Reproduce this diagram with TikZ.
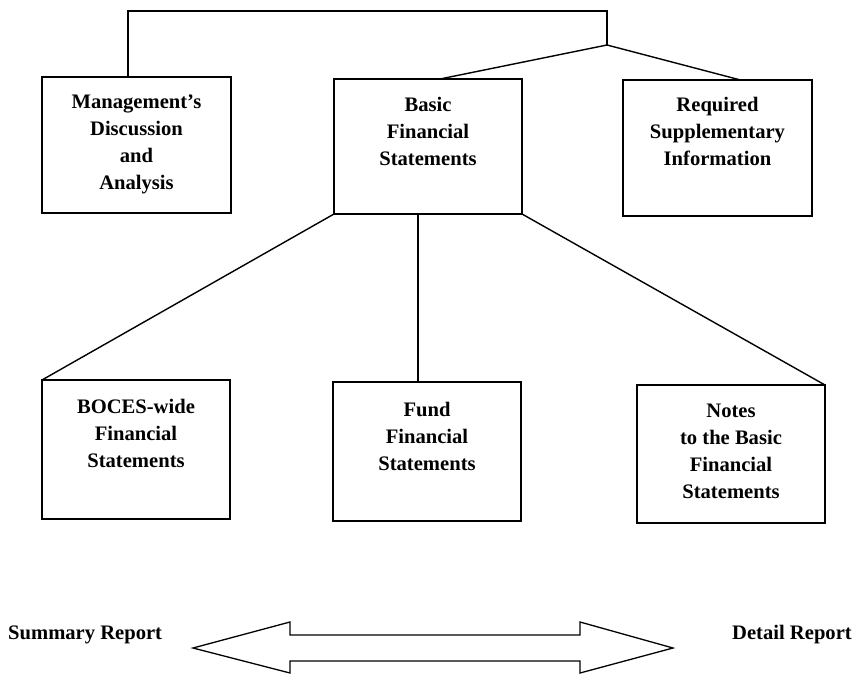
\documentclass[tikz,border=0pt]{standalone}
\usepackage{fontspec}
\setmainfont{Liberation Serif}
\begin{document}
\begin{tikzpicture}[x=1pt,y=-1pt,
  box/.style={draw, line width=1.6pt, inner sep=0pt, outer sep=0pt},
  txt/.style={anchor=north, inner sep=0pt, align=center, font=\fontsize{20.6}{27}\selectfont\bfseries},
  lbl/.style={anchor=base west, inner sep=0pt, font=\fontsize{20.6}{24}\selectfont\bfseries},
  conn/.style={line width=1.4pt}]
\useasboundingbox (0,0) rectangle (853,674);
% boxes
\node[box, minimum width=189pt, minimum height=136pt] (mda) at (136.5,145) {};
\node[box, minimum width=188pt, minimum height=135pt] (bfs) at (428,146.5) {};
\node[box, minimum width=189pt, minimum height=136pt] (rsi) at (717.5,148) {};
\node[box, minimum width=188pt, minimum height=139pt] (boces) at (136,449.5) {};
\node[box, minimum width=188pt, minimum height=139pt] (fund) at (427,451.5) {};
\node[box, minimum width=188pt, minimum height=138pt] (notes) at (731,454) {};
% texts
\node[txt] (mdat) at (136.5,95) {Management's\\Discussion\\and\\Analysis};
\node[txt] (bfst) at (428,97) {Basic\\Financial\\Statements};
\node[txt] (rsit) at (717.5,97) {Required\\Supplementary\\Information};
\node[txt] (bocest) at (136,399) {BOCES-wide\\Financial\\Statements};
\node[txt] (fundt) at (427,402) {Fund\\Financial\\Statements};
\node[txt] (notest) at (731,404) {Notes\\to the Basic\\Financial\\Statements};
% top connectors
\coordinate (tl) at (128,11);
\coordinate (tr) at (607,11);
\coordinate (j) at (607,45);
\draw[conn] (mda.north -| tl) -- (tl) -- (tr) -- (j);
\draw[conn] ([xshift=12pt]bfs.north) -- (j) -- ([xshift=23pt]rsi.north);
% lower connectors
\draw[conn] (bfs.south west) -- (boces.north west);
\draw[conn] ([xshift=-10pt]bfs.south) -- ([xshift=-9pt]fund.north);
\draw[conn] (bfs.south east) -- (notes.north east);
% double arrow
\draw[line width=1.3pt, line join=miter]
  (193,648) -- (290,622) -- (290,635) -- (580,635) -- (580,622) -- (673,648)
  -- (580,673) -- (580,661) -- (290,661) -- (290,673) -- cycle;
\node[lbl] (sum) at (8,639) {Summary Report};
\node[lbl] (det) at (732,639) {Detail Report};
\end{tikzpicture}
\end{document}
